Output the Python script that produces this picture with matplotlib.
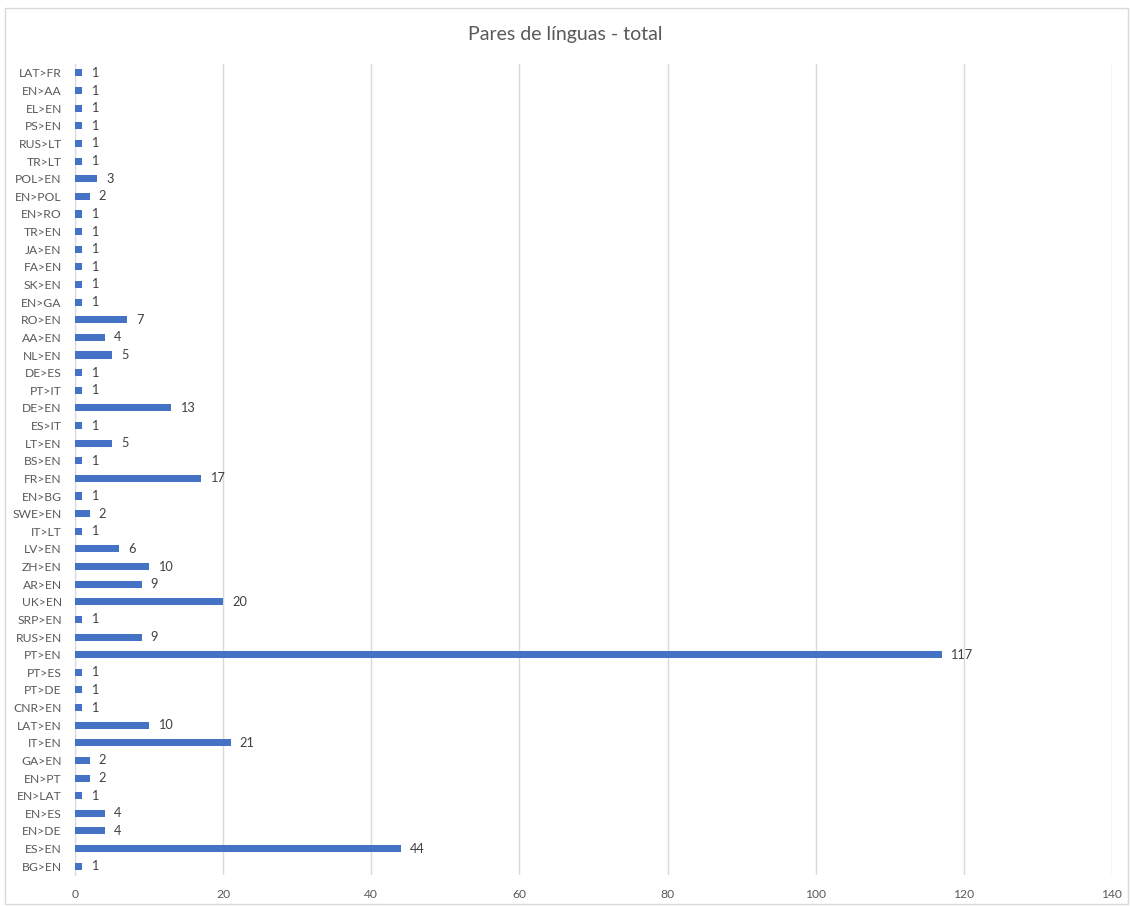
import matplotlib.pyplot as plt
from matplotlib.patches import Rectangle

# categories listed bottom to top, as drawn
pairs = ["BG>EN", "ES>EN", "EN>DE", "EN>ES", "EN>LAT", "EN>PT", "GA>EN", "IT>EN",
         "LAT>EN", "CNR>EN", "PT>DE", "PT>ES", "PT>EN", "RUS>EN", "SRP>EN", "UK>EN",
         "AR>EN", "ZH>EN", "LV>EN", "IT>LT", "SWE>EN", "EN>BG", "FR>EN", "BS>EN",
         "LT>EN", "ES>IT", "DE>EN", "PT>IT", "DE>ES", "NL>EN", "AA>EN", "RO>EN",
         "EN>GA", "SK>EN", "FA>EN", "JA>EN", "TR>EN", "EN>RO", "EN>POL", "POL>EN",
         "TR>LT", "RUS>LT", "PS>EN", "EL>EN", "EN>AA", "LAT>FR"]
totals = [1, 44, 4, 4, 1, 2, 2, 21,
          10, 1, 1, 1, 117, 9, 1, 20,
          9, 10, 6, 1, 2, 1, 17, 1,
          5, 1, 13, 1, 1, 5, 4, 7,
          1, 1, 1, 1, 1, 1, 2, 3,
          1, 1, 1, 1, 1, 1]
x_ticks = [0, 20, 40, 60, 80, 100, 120, 140]

plt.rcParams["font.family"] = ["Lato", "DejaVu Sans"]
text_color = "#595959"

fig = plt.figure(figsize=(11.3, 9.06), dpi=100)
fig.patches.append(Rectangle((0.004, 0.002), 0.994, 0.989, transform=fig.transFigure,
                             fill=False, edgecolor="#D9D9D9", linewidth=1))
ax = fig.add_axes([0.0664, 0.0342, 0.9176, 0.895])

y = range(len(pairs))
ax.barh(y, totals, height=0.4, color="#4472C4", zorder=3)
for i, v in enumerate(totals):
    ax.text(v + 1.2, i, str(v), va="center", ha="left", fontsize=9.2, color="#404040")

ax.set_xlim(0, 140)
ax.set_ylim(-0.5, len(pairs) - 0.5)
ax.set_xticks(x_ticks)
ax.set_yticks(list(y))
ax.set_yticklabels(pairs)
ax.tick_params(axis="both", length=0, labelsize=8.7, colors=text_color)
ax.tick_params(axis="y", pad=9.5)
ax.tick_params(axis="x", pad=10)
ax.grid(axis="x", color="#D9D9D9", linewidth=1, zorder=0)
for side in ["top", "right", "bottom"]:
    ax.spines[side].set_visible(False)
ax.spines["left"].set_color("#D9D9D9")

fig.text(0.5, 0.962, "Pares de línguas - total", ha="center", va="center",
         fontsize=14, color=text_color)

fig.savefig("out.png", dpi=100)
